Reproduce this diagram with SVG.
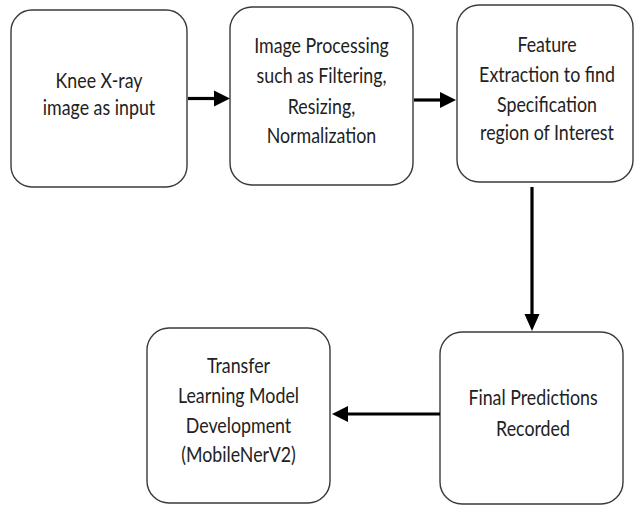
<svg xmlns="http://www.w3.org/2000/svg" width="635" height="506" viewBox="0 0 635 506">
  <defs>
    <style>
      .box { fill: #ffffff; stroke: #3a3a3a; stroke-width: 1.4; }
      .label { font-family: Lato, "Liberation Sans", sans-serif; font-size: 17.8px; fill: #222222; text-anchor: middle; }
      .edge { stroke: #000000; stroke-width: 3.2; fill: none; }
      .head { fill: #000000; stroke: none; }
    </style>
  </defs>
  <rect width="635" height="506" fill="#ffffff"/>

  <!-- process nodes; labels are set slightly tall (scaled 1.15 vertically about their baseline) -->
  <g id="node-input">
    <rect class="box" x="11" y="10" width="176" height="177" rx="21" ry="21"/>
    <text class="label" transform="translate(99 88) scale(1 1.15)">Knee X-ray</text>
    <text class="label" transform="translate(99 115) scale(1 1.15)">image as input</text>
  </g>

  <g id="node-processing">
    <rect class="box" x="230" y="7" width="183" height="178" rx="22" ry="22"/>
    <text class="label" transform="translate(321.5 53) scale(1 1.15)">Image Processing</text>
    <text class="label" transform="translate(321.5 83) scale(1 1.15)">such as Filtering,</text>
    <text class="label" transform="translate(321.5 114) scale(1 1.15)">Resizing,</text>
    <text class="label" transform="translate(321.5 143) scale(1 1.15)">Normalization</text>
  </g>

  <g id="node-features">
    <rect class="box" x="457" y="5" width="176" height="177" rx="22" ry="22"/>
    <text class="label" transform="translate(547 52) scale(1 1.15)">Feature</text>
    <text class="label" transform="translate(547 82) scale(1 1.15)">Extraction to find</text>
    <text class="label" transform="translate(547 112) scale(1 1.15)">Specification</text>
    <text class="label" transform="translate(547 140) scale(1 1.15)">region of Interest</text>
  </g>

  <g id="node-predictions">
    <rect class="box" x="440" y="332" width="183" height="172" rx="22" ry="22"/>
    <text class="label" transform="translate(533 405) scale(1 1.15)">Final Predictions</text>
    <text class="label" transform="translate(533 436) scale(1 1.15)">Recorded</text>
  </g>

  <g id="node-model">
    <rect class="box" x="147" y="328" width="183" height="175" rx="22" ry="22"/>
    <text class="label" transform="translate(238.5 373) scale(1 1.15)">Transfer</text>
    <text class="label" transform="translate(238.5 403) scale(1 1.15)">Learning Model</text>
    <text class="label" transform="translate(238.5 433) scale(1 1.15)">Development</text>
    <text class="label" transform="translate(238.5 462) scale(1 1.15)">(MobileNerV2)</text>
  </g>

  <!-- connectors -->
  <g id="connectors">
    <line class="edge" x1="188" y1="98.5" x2="215" y2="98.5"/>
    <polygon class="head" points="230,98.5 214,90.5 214,106.5"/>

    <line class="edge" x1="414" y1="100" x2="441" y2="100"/>
    <polygon class="head" points="456,100 440,92 440,108"/>

    <line class="edge" x1="532" y1="187" x2="532" y2="316"/>
    <polygon class="head" points="532,331 524.5,314 539.5,314"/>

    <line class="edge" x1="440" y1="414" x2="347" y2="414"/>
    <polygon class="head" points="332,414 348,406 348,422"/>
  </g>
</svg>
